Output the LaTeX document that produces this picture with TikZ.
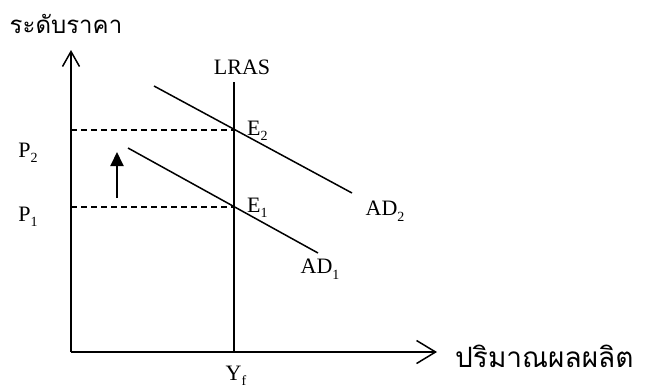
\documentclass[tikz,border=0pt]{standalone}
\usepackage{fontspec}
\setmainfont{Liberation Serif}
\newfontfamily\thaifont[Script=Thai]{Loma}
\usetikzlibrary{arrows.meta}
\newcommand{\sbs}[1]{\raisebox{-5.5bp}{\fontsize{14bp}{14bp}\selectfont #1}}
\begin{document}
\begin{tikzpicture}[x=1bp,y=-1bp,
  ln/.style={line width=1.5bp},
  dsh/.style={line width=1.4bp,dash pattern=on 6bp off 4bp},
  lbl/.style={inner sep=0pt,font=\fontsize{22bp}{24bp}\selectfont},
  thl/.style={inner sep=0pt,font=\thaifont\fontsize{24bp}{28bp}\selectfont}]
\useasboundingbox (0,0) rectangle (658,391);
% key points
\coordinate (O) at (71,352);
\coordinate (Ytop) at (71,50);
\coordinate (Xend) at (437,352);
\coordinate (Lb) at (234,352);
\coordinate (Lt) at (234,82);
\coordinate (E2) at (234,130);
\coordinate (E1) at (234,207);
\coordinate (P2) at (71,130);
\coordinate (P1) at (71,207);
\coordinate (A2s) at (154,86);
\coordinate (A2e) at (352,193);
\coordinate (A1s) at (128,148);
\coordinate (A1e) at (318,253);
\coordinate (Ua) at (117,198);
\coordinate (Ub) at (117,152);
% axes
\draw[ln,-{Straight Barb[length=15bp,width=17bp]}] (O) -- (Ytop);
\draw[ln,-{Straight Barb[length=19bp,width=23bp]}] (O) -- (Xend);
% LRAS
\draw[ln] (Lb) -- (Lt);
% dashed
\draw[dsh] (P2) -- (E2);
\draw[dsh] (P1) -- (E1);
% AD curves
\draw[ln] (A2s) -- (A2e);
\draw[ln] (A1s) -- (A1e);
% shift arrow
\draw[line width=2bp,-{Triangle[length=14bp,width=13bp]}] (Ua) -- (Ub);
% labels
\node[thl] (ylab) at (66,24) {ระดับราคา};
\node[thl,font=\thaifont\fontsize{28bp}{32bp}\selectfont,anchor=west] (xlab) at (455,356) {ปริมาณผลผลิต};
\node[lbl] (lras) at (242,67) {LRAS};
\node[lbl,anchor=west] (e2) at (247,131) {E\sbs{2}};
\node[lbl,anchor=west] (e1) at (247,208) {E\sbs{1}};
\node[lbl] (ad2) at (385,211) {AD\sbs{2}};
\node[lbl] (ad1) at (320,269) {AD\sbs{1}};
\node[lbl] (p2) at (28,153) {P\sbs{2}};
\node[lbl] (p1) at (28,217) {P\sbs{1}};
\node[lbl] (yf) at (236,376) {Y\sbs{f}};
\end{tikzpicture}
\end{document}
